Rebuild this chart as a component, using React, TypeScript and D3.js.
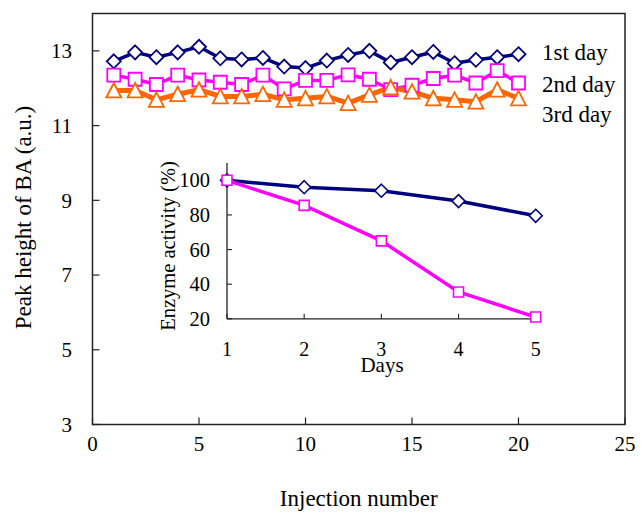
import * as d3 from "d3";

// main chart: peak height per injection, three days
const injections = [1, 2, 3, 4, 5, 6, 7, 8, 9, 10, 11, 12, 13, 14, 15, 16, 17, 18, 19, 20];
const day1 = [12.72, 12.96, 12.83, 12.96, 13.11, 12.8, 12.77, 12.81, 12.58, 12.54, 12.74, 12.89, 13.0, 12.69, 12.83, 12.97, 12.67, 12.76, 12.83, 12.91];
const day2 = [12.35, 12.24, 12.1, 12.35, 12.22, 12.16, 12.1, 12.35, 11.98, 12.21, 12.21, 12.36, 12.24, 11.96, 12.08, 12.26, 12.35, 12.14, 12.47, 12.14];
const day3 = [11.94, 11.94, 11.69, 11.84, 11.96, 11.78, 11.78, 11.84, 11.69, 11.73, 11.78, 11.6, 11.82, 12.02, 11.91, 11.73, 11.69, 11.64, 11.96, 11.73];
const seriesNames = ["1st day", "2nd day", "3rd day"];
const xTicks = [0, 5, 10, 15, 20, 25];
const yTicks = [3, 5, 7, 9, 11, 13];

// inset: enzyme activity over days
const days = [1, 2, 3, 4, 5];
const activityA = [100, 96, 94, 88, 79.5];
const activityB = [100, 85.5, 65, 35.5, 21];
const insetYTicks = [20, 40, 60, 80, 100];

const NAVY = "#000080";
const MAGENTA = "#FF00FF";
const ORANGE = "#FF6600";
const FONT = "'Liberation Serif', 'Times New Roman', serif";

const diamond = (r: number) => `M0,${-r}L${r},0L0,${r}L${-r},0Z`;
const square = (r: number) => `M${-r},${-r}H${r}V${r}H${-r}Z`;
const triangle = (r: number) => `M0,${-r}L${r},${r - 0.5}L${-r},${r - 0.5}Z`;

export default function App() {
  const W = 641;
  const H = 516;

  const x = d3.scaleLinear().domain([0, 25]).range([92.5, 625]);
  const y = d3.scaleLinear().domain([3, 14]).range([424.5, 13.5]);

  const series = [
    { name: seriesNames[0], values: day1, color: NAVY, width: 3.5, shape: diamond(7) },
    { name: seriesNames[1], values: day2, color: MAGENTA, width: 3.5, shape: square(6.5) },
    { name: seriesNames[2], values: day3, color: ORANGE, width: 5, shape: triangle(7.5) },
  ];
  const legendY = [60, 91.5, 121.5];

  const line = d3
    .line<number>()
    .x((_, i) => x(injections[i]))
    .y((d) => y(d));

  const ix = d3.scaleLinear().domain([1, 5]).range([227, 535.7]);
  const iy = d3.scaleLinear().domain([20, 110]).range([318.8, 163]);
  const iline = d3
    .line<number>()
    .x((_, i) => ix(days[i]))
    .y((d) => iy(d));

  const inset = [
    { values: activityA, color: NAVY, shape: diamond(6.5) },
    { values: activityB, color: MAGENTA, shape: square(5) },
  ];

  return (
    <svg
      width={W}
      height={H}
      style={{ position: "absolute", left: 0, top: 0, background: "#fff" }}
      fontFamily={FONT}
    >
      <rect width={W} height={H} fill="#fff" />

      {/* frame */}
      <rect
        x={x(0)}
        y={y(14)}
        width={x(25) - x(0)}
        height={y(3) - y(14)}
        fill="none"
        stroke="#222"
        strokeWidth={1.5}
      />
      {xTicks.map((t) => (
        <g key={"xt" + t}>
          <line x1={x(t)} x2={x(t)} y1={y(3)} y2={y(3) - 7} stroke="#222" strokeWidth={1.2} />
          <text x={x(t)} y={451} textAnchor="middle" fontSize={21}>
            {t}
          </text>
        </g>
      ))}
      {yTicks.map((t) => (
        <g key={"yt" + t}>
          <line x1={x(0)} x2={x(0) + 7} y1={y(t)} y2={y(t)} stroke="#222" strokeWidth={1.2} />
          <text x={72} y={y(t)} dy="0.35em" textAnchor="end" fontSize={21}>
            {t}
          </text>
        </g>
      ))}
      <text x={(x(0) + x(25)) / 2} y={506} textAnchor="middle" fontSize={23}>
        Injection number
      </text>
      <text transform="translate(31,217.5) rotate(-90)" textAnchor="middle" fontSize={23}>
        Peak height of BA (a.u.)
      </text>

      {/* series */}
      {series.map((s) => (
        <path key={s.name + "l"} d={line(s.values) ?? ""} fill="none" stroke={s.color} strokeWidth={s.width} strokeLinejoin="round" />
      ))}
      {series.map((s) => (
        <g key={s.name + "m"}>
          {s.values.map((v, i) => (
            <path
              key={i}
              d={s.shape}
              transform={`translate(${x(injections[i])},${y(v)})`}
              fill="#fff"
              stroke={s.color}
              strokeWidth={1.8}
            />
          ))}
        </g>
      ))}
      {series.map((s, i) => (
        <text key={s.name} x={542} y={legendY[i]} fontSize={23}>
          {s.name}
        </text>
      ))}

      {/* inset */}
      <line x1={ix(1)} x2={ix(1)} y1={iy(110)} y2={iy(20)} stroke="#222" strokeWidth={1.3} />
      <line x1={ix(1)} x2={ix(5)} y1={iy(20)} y2={iy(20)} stroke="#222" strokeWidth={1.3} />
      {days.map((d) => (
        <g key={"ixt" + d}>
          <line x1={ix(d)} x2={ix(d)} y1={iy(20)} y2={iy(20) - 5} stroke="#222" strokeWidth={1.1} />
          <text x={ix(d)} y={356} textAnchor="middle" fontSize={20}>
            {d}
          </text>
        </g>
      ))}
      {insetYTicks.map((t) => (
        <g key={"iyt" + t}>
          <line x1={ix(1)} x2={ix(1) + 5} y1={iy(t)} y2={iy(t)} stroke="#222" strokeWidth={1.1} />
          <text x={210} y={iy(t)} dy="0.35em" textAnchor="end" fontSize={20.5}>
            {t}
          </text>
        </g>
      ))}
      <text x={382} y={372} textAnchor="middle" fontSize={21}>
        Days
      </text>
      <text transform="translate(175,246) rotate(-90)" textAnchor="middle" fontSize={20.5}>
        Enzyme activity (%)
      </text>
      {inset.map((s, k) => (
        <g key={"in" + k}>
          <path d={iline(s.values) ?? ""} fill="none" stroke={s.color} strokeWidth={3.5} />
          {s.values.map((v, i) => (
            <path
              key={i}
              d={s.shape}
              transform={`translate(${ix(days[i])},${iy(v)})`}
              fill="#fff"
              stroke={s.color}
              strokeWidth={1.6}
            />
          ))}
        </g>
      ))}
    </svg>
  );
}
